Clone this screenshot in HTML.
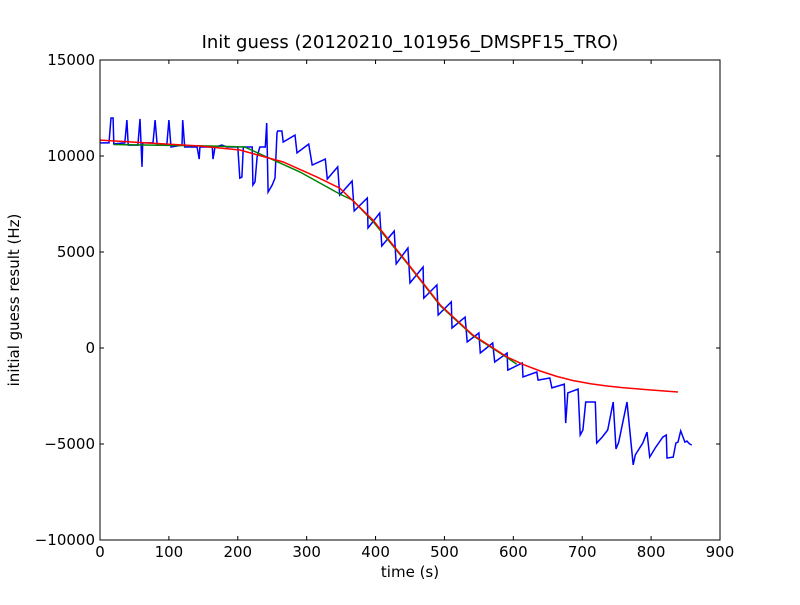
<!DOCTYPE html>
<html><head><meta charset="utf-8"><style>
body{margin:0;background:#fff}
svg text{font-family:"DejaVu Sans","Liberation Sans",sans-serif;fill:#000}
</style></head><body>
<svg id="chart" width="800" height="600" xmlns="http://www.w3.org/2000/svg">
<rect width="800" height="600" fill="#fff"/>
<text x="410" y="48" font-size="18" text-anchor="middle">Init guess (20120210_101956_DMSPF15_TRO)</text>
<text x="410" y="577" font-size="15" text-anchor="middle">time (s)</text>
<text x="0" y="0" font-size="15" text-anchor="middle" transform="translate(19,300) rotate(-90)">initial guess result (Hz)</text>
<g id="plot"></g>
</svg>
<script>
const xTicks=[0,100,200,300,400,500,600,700,800,900];
const yTicks=[-10000,-5000,0,5000,10000,15000];
const yTickLabels=["\u221210000","\u22125000","0","5000","10000","15000"];
const blueT=[0,13,16,19,20,36,39,41,55,58,61,62,77,80,83,97,100,103,119,120,123,141,144,145,163,164,167,177,184,200,203,206,208,221,222,225,228,232,240,242,244,250,254,257,258,264,266,283,286,303,308,327,330,345,348,366,369,388,389,406,409,427,430,447,450,469,470,489,491,510,511,530,533,550,552,570,573,591,592,613,614,634,636,653,656,674,676,679,694,697,701,705,719,721,729,737,745,749,753,765,774,777,788,794,798,806,817,822,823,832,836,839,843,849,852,856,859];
const blueV=[10680,10680,11980,11980,10630,10680,11870,10570,10570,11930,9430,10680,10680,11870,10570,10570,11870,10470,10570,11870,10470,10470,9840,10470,10470,9840,10470,10570,10470,10470,8850,8900,10470,10470,8490,8650,9950,10470,10470,11720,8120,8490,8850,11200,11300,11300,10730,11090,10160,10620,9530,9840,8800,9430,7970,8700,7140,7810,6250,7030,5310,6090,4380,5210,3390,4220,2600,3280,1720,2400,1040,1610,310,780,-260,260,-730,-260,-1150,-780,-1510,-1250,-1670,-1560,-2080,-1880,-3910,-2340,-2140,-4530,-4270,-2810,-2810,-4950,-4640,-4270,-2810,-5260,-4900,-2810,-6090,-5570,-4950,-4380,-5680,-5210,-4640,-4530,-5730,-5680,-4950,-4900,-4320,-4900,-4850,-5000,-5050];
const greenT=[20,100,160,210,242,290,348,367,396,445,494,541,591,605];
const greenV=[10600,10550,10520,10470,9950,9170,8020,7700,6600,4450,2200,650,-500,-850];
const redT=[0,145,203,266,315,348,396,445,494,541,591,615,639,663,687,712,736,760,784,812,839];
const redV=[10830,10520,10310,9690,8900,8330,6670,4480,2240,680,-470,-870,-1200,-1480,-1700,-1860,-1980,-2070,-2140,-2220,-2290];
const L=100,R=720,T=60,B=540;
const xs=t=>L+(t-0)/(900-0)*(R-L);
const ys=v=>B-(v+10000)/25000*(B-T);
const NS="http://www.w3.org/2000/svg";
const g=document.getElementById('plot');
function mk(tag,attrs){const e=document.createElementNS(NS,tag);for(const k in attrs)e.setAttribute(k,attrs[k]);g.appendChild(e);return e;}
function line(T_,V_,color,name){
  const p=mk('polyline',{points:T_.map((t,i)=>xs(t).toFixed(1)+','+ys(V_[i]).toFixed(1)).join(' '),fill:'none',stroke:color,'stroke-width':1.5});
  
  
}
line(blueT,blueV,'#0000ff','series-blue');
line(greenT,greenV,'#008000','series-green');
line(redT,redV,'#ff0000','series-red');
const fr=mk('rect',{x:L,y:T,width:R-L,height:B-T,fill:'none',stroke:'#000','stroke-width':1});


xTicks.forEach(t=>{
  const x=xs(t);
  mk('line',{x1:x,y1:B,x2:x,y2:B-4,stroke:'#000'});
  mk('line',{x1:x,y1:T,x2:x,y2:T+4,stroke:'#000'});
  const tx=mk('text',{x:x,y:B+17,'font-size':15,'text-anchor':'middle'});
  tx.textContent=t;
  
  
});
yTicks.forEach((v,i)=>{
  const y=ys(v);
  mk('line',{x1:L,y1:y,x2:L+4,y2:y,stroke:'#000'});
  mk('line',{x1:R,y1:y,x2:R-4,y2:y,stroke:'#000'});
  const tx=mk('text',{x:L-5,y:y+5,'font-size':15,'text-anchor':'end'});
  tx.textContent=yTickLabels[i];
  
  
});
</script>
</body></html>
